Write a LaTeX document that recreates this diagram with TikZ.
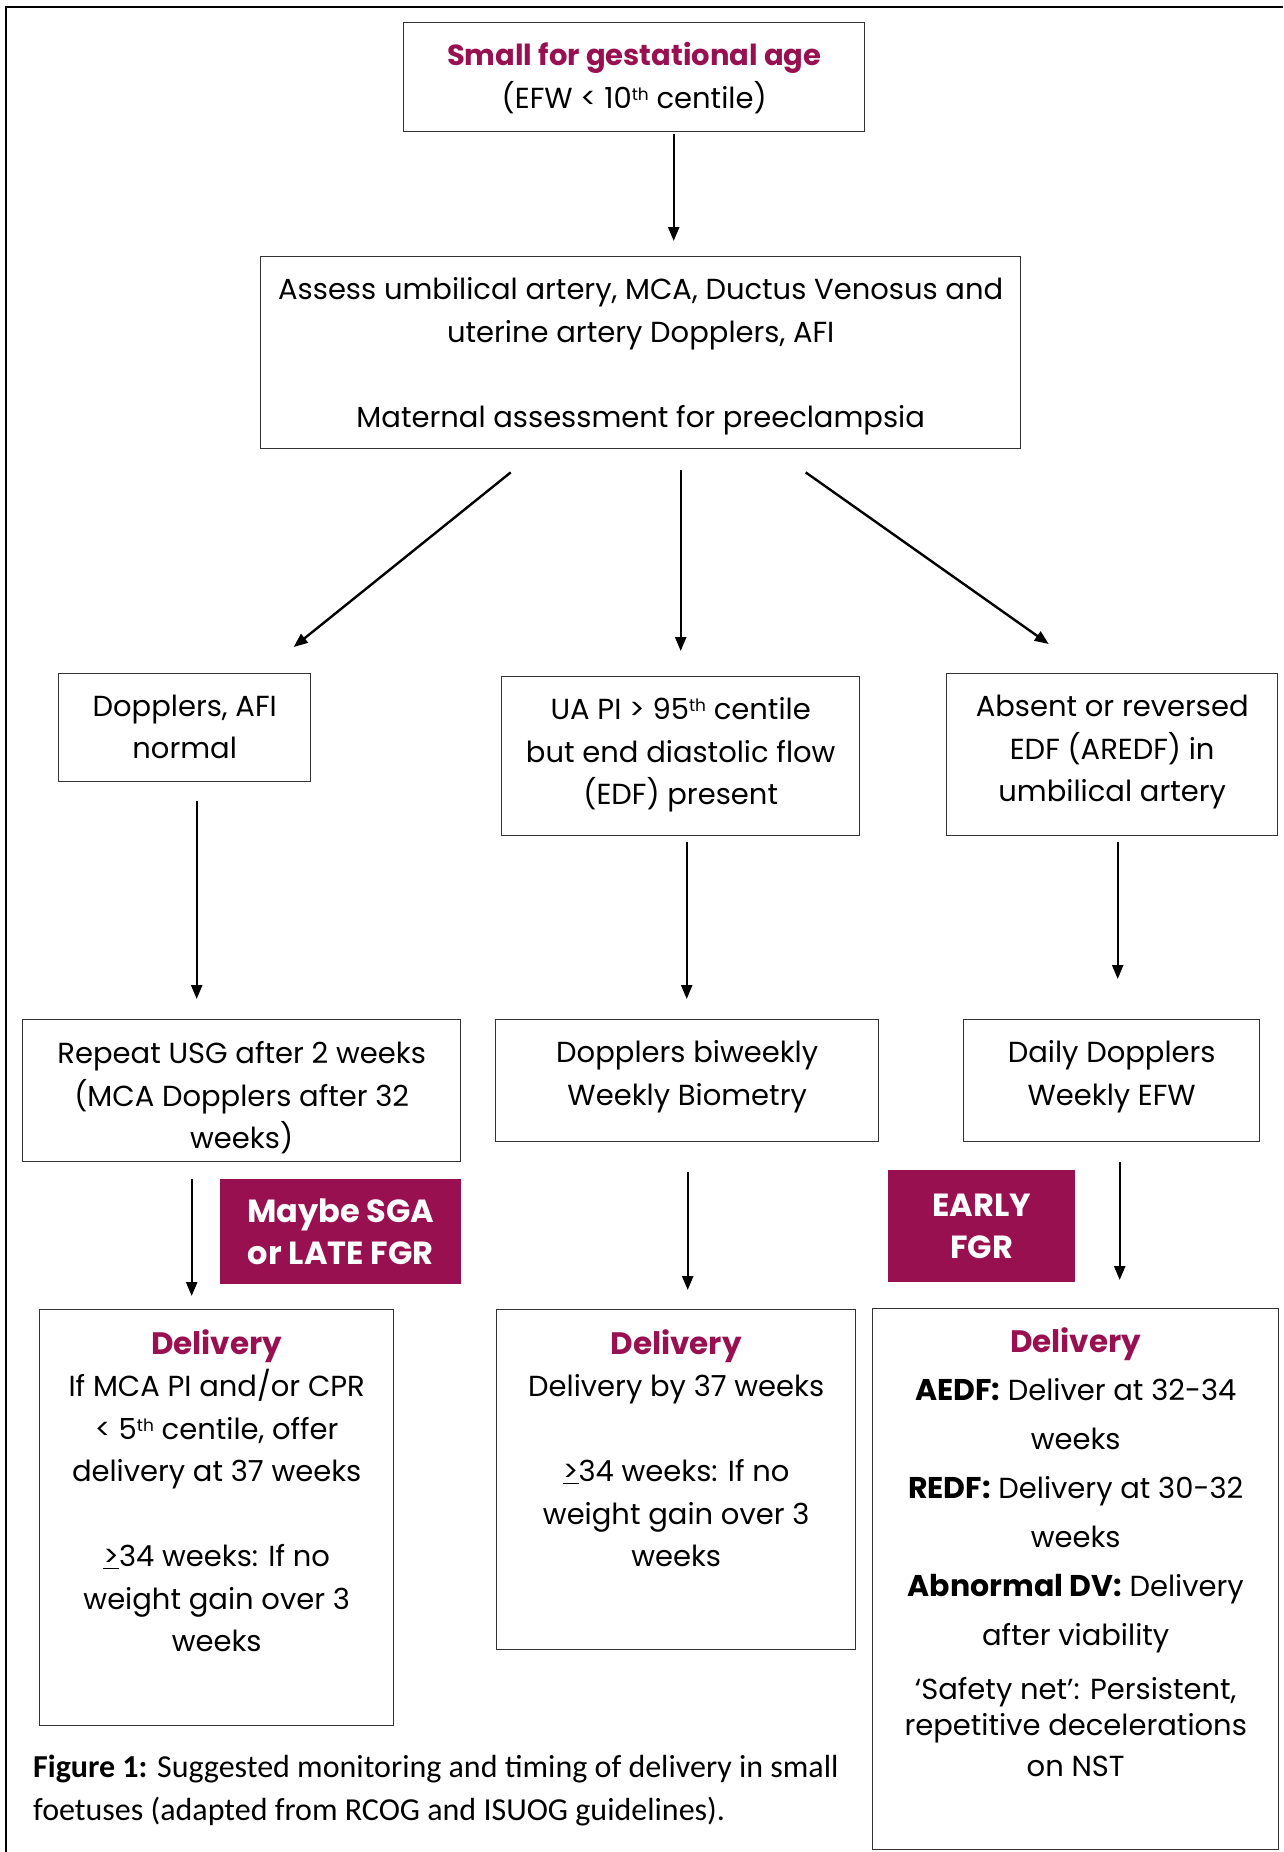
\documentclass[tikz,border=0pt]{standalone}
\usepackage{fontspec}
\setmainfont{Poppins}
\newfontfamily\capfont{Carlito}
\usetikzlibrary{arrows.meta,calc}
\definecolor{sgared}{RGB}{153,16,80}
\newcommand\mainfs{\fontsize{29}{42.5}\selectfont}
\newcommand\sups[1]{\raisebox{8pt}{\fontsize{17}{17}\selectfont #1}}
\newcommand\ulgt{\underline{>}}
\newcommand\hdg[1]{\textcolor{sgared}{\fontsize{31}{42.5}\selectfont\bfseries #1}}
\begin{document}
\begin{tikzpicture}[x=1pt,y=-1pt,
  box/.style={draw=black!80, line width=1.4pt, inner sep=0pt, anchor=north west},
  txt/.style={inner sep=0pt, align=center, font=\mainfs},
  tagbox/.style={fill=sgared, inner sep=0pt, anchor=north west, align=center, text=white, font=\fontsize{32}{42.5}\selectfont\bfseries},
  btext/.style={inner sep=0pt, anchor=north, align=center, font=\mainfs},
  arr/.style={line width=2.4pt, -{Triangle[length=14pt,width=11pt]}}
]
\useasboundingbox (0,0) rectangle (1283,1852);
\fill[white] (0,0) rectangle (1283,1852);
\draw[line width=2.6pt] (6,1852) -- (6,7) -- (1283,7);

\node[box, minimum width=461, minimum height=109] (sga) at (403,22) {};
\node[txt] (sgat) at ([yshift=-1pt]sga.center)
  {\textcolor{sgared}{\bfseries Small for gestational age}\\(EFW < 10\sups{th} centile)};
\node[box, minimum width=760, minimum height=192] (assess) at (260,256) {};
\node[txt] (assesst) at ([yshift=-3.5pt]assess.center)
  {Assess umbilical artery, MCA, Ductus Venosus and\\uterine artery Dopplers, AFI\\[42.5pt]Maternal assessment for preeclampsia};

\node[box, minimum width=252, minimum height=108] (a1) at (58,673) {};
\node[txt] (a1t) at ([yshift=1pt]a1.center) {Dopplers, AFI\\normal};
\node[box, minimum width=358, minimum height=159] (a2) at (501,676) {};
\node[txt] (a2t) at ([yshift=1.3pt]a2.center) {UA PI > 95\sups{th} centile\\but end diastolic flow\\(EDF) present};
\node[box, minimum width=331, minimum height=162] (a3) at (946,673) {};
\node[txt] (a3t) at ([yshift=2.5pt]a3.center) {Absent or reversed\\EDF (AREDF) in\\umbilical artery};

\node[box, minimum width=438, minimum height=142] (b1) at (22,1019) {};
\node[txt] (b1t) at ([yshift=-7pt]b1.center) {Repeat USG after 2 weeks\\(MCA Dopplers after 32\\weeks)};
\node[box, minimum width=383, minimum height=122] (b2) at (495,1019) {};
\node[txt] (b2t) at ([yshift=4pt]b2.center) {Dopplers biweekly\\Weekly Biometry};
\node[box, minimum width=296, minimum height=122] (b3) at (963,1019) {};
\node[txt] (b3t) at ([yshift=4pt]b3.center) {Daily Dopplers\\Weekly EFW};

\node[tagbox, minimum width=241, minimum height=105] (sgatag) at (220,1179) {Maybe SGA\\or LATE FGR};
\node[tagbox, minimum width=187, minimum height=112] (earlytag) at (888,1170) {EARLY\\FGR};

\node[box, minimum width=354, minimum height=416] (c1) at (39,1309) {};
\node[box, minimum width=359, minimum height=340] (c2) at (496,1309) {};
\node[box, minimum width=406, minimum height=541] (c3) at (872,1308) {};

\node[btext] (c1t) at ([yshift=-20pt]c1.north)
  {\hdg{Delivery}\\If MCA PI and/or CPR\\< 5\sups{th} centile, offer\\delivery at 37 weeks\\[42.5pt]\ulgt34 weeks: If no\\weight gain over 3\\weeks};
\node[btext] (c2t) at ([yshift=-20pt]c2.north)
  {\hdg{Delivery}\\Delivery by 37 weeks\\[42.5pt]\ulgt34 weeks: If no\\weight gain over 3\\weeks};
\node[btext, font=\fontsize{29}{49}\selectfont] (c3t) at ([yshift=-19.5pt]c3.north)
  {\hdg{Delivery}\\[-1pt]\textbf{\fontsize{30}{49}\selectfont AEDF:} Deliver at 32-34\\weeks\\\textbf{\fontsize{30}{49}\selectfont REDF:} Delivery at 30-32\\weeks\\\textbf{\fontsize{30}{49}\selectfont Abnormal DV:} Delivery\\after viability\\[5pt]‘Safety net’: Persistent,\\[-13pt]repetitive decelerations\\[-8pt]on NST};

\node[anchor=north west, inner sep=0pt, align=left, font=\capfont\fontsize{32}{42.5}\selectfont] (cap) at (33,1755)
  {\textbf{Figure 1:} Suggested monitoring and timing of delivery in small\\foetuses (adapted from RCOG and ISUOG guidelines).};

\draw[arr] ([xshift=39.5pt,yshift=-2pt]sga.south) -- ([xshift=33pt,yshift=15pt]assess.north);
\draw[arr] ([xshift=-130pt,yshift=-23pt]assess.south) -- ([xshift=109pt,yshift=26pt]a1.north);
\draw[arr] ([xshift=40pt,yshift=-21pt]assess.south) -- ([xshift=0pt,yshift=25pt]a2.north);
\draw[arr] ([xshift=165pt,yshift=-23pt]assess.south) -- ([xshift=-63.5pt,yshift=29pt]a3.north);
\draw[arr] ([xshift=12pt,yshift=-19pt]a1.south) -- ([xshift=-45pt,yshift=20pt]b1.north);
\draw[arr] ([xshift=6pt,yshift=-6pt]a2.south) -- ([xshift=-0.5pt,yshift=20pt]b2.north);
\draw[arr] ([xshift=5.5pt,yshift=-6pt]a3.south) -- ([xshift=6pt,yshift=40pt]b3.north);
\draw[arr] ([xshift=-50pt,yshift=-17pt]b1.south) -- ([xshift=-25pt,yshift=13pt]c1.north);
\draw[arr] ([xshift=0.5pt,yshift=-30pt]b2.south) -- ([xshift=11.5pt,yshift=19pt]c2.north);
\draw[arr] ([xshift=8pt,yshift=-20pt]b3.south) -- ([xshift=44pt,yshift=28pt]c3.north);
\end{tikzpicture}
\end{document}
